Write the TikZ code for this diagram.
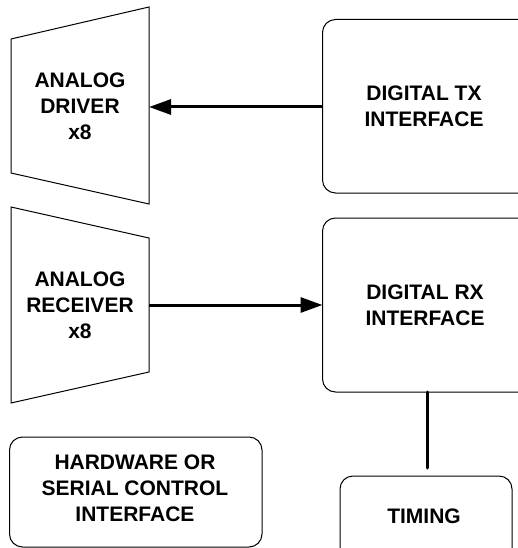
\documentclass[tikz,border=0pt]{standalone}
\usepackage{fontspec}
\setmainfont{Liberation Sans}
\usetikzlibrary{arrows.meta}
\begin{document}
\begin{tikzpicture}[x=1pt,y=-1pt,
  outline/.style={draw=black,line width=1pt},
  rbox/.style={outline,rounded corners=13pt},
  lbl/.style={font=\bfseries\fontsize{21}{26}\selectfont,align=center,text=black},
  conn/.style={line width=3pt,-{Triangle[length=22pt,width=15pt]}},
  wire/.style={line width=3pt,line cap=round}]
\useasboundingbox (0,0) rectangle (518,548);
\clip (0,0) rectangle (518,548);
% analog driver trapezoid
\coordinate (d1) at (11,39);
\coordinate (d2) at (149,7);
\coordinate (d3) at (149,204);
\coordinate (d4) at (11,173);
\draw[outline] (d1) -- (d2) -- (d3) -- (d4) -- cycle;
\coordinate (drvR) at (149,107);
\node[lbl] (drv) at (80,106) {ANALOG\\DRIVER\\x8};
% analog receiver trapezoid
\coordinate (r1) at (11,207);
\coordinate (r2) at (149,238);
\coordinate (r3) at (149,372);
\coordinate (r4) at (11,403);
\draw[outline] (r1) -- (r2) -- (r3) -- (r4) -- cycle;
\coordinate (rcvR) at (149,305);
\node[lbl] (rcv) at (80,305) {ANALOG\\RECEIVER\\x8};
% digital boxes
\draw[rbox] (322.5,19.5) rectangle (535,193);
\coordinate (txL) at (322.5,107);
\node[lbl] (tx) at (424,106) {DIGITAL TX\\INTERFACE};
\draw[rbox] (322.5,218) rectangle (535,392);
\coordinate (rxL) at (322.5,305);
\coordinate (rxB) at (427,392);
\node[lbl] (rx) at (425,305) {DIGITAL RX\\INTERFACE};
% hardware box
\draw[rbox] (9.5,437) rectangle (262,547);
\node[lbl] (hw) at (135,488) {HARDWARE OR\\SERIAL CONTROL\\INTERFACE};
% timing box
\draw[rbox] (340,476) rectangle (512,565);
\coordinate (tmT) at (427,468);
\node[lbl] (tm) at (424,516) {TIMING};
% connectors
\draw[conn] (txL) -- (drvR);
\draw[conn] (rcvR) -- (rxL);
\draw[wire] (rxB) -- (tmT);
\end{tikzpicture}
\end{document}
